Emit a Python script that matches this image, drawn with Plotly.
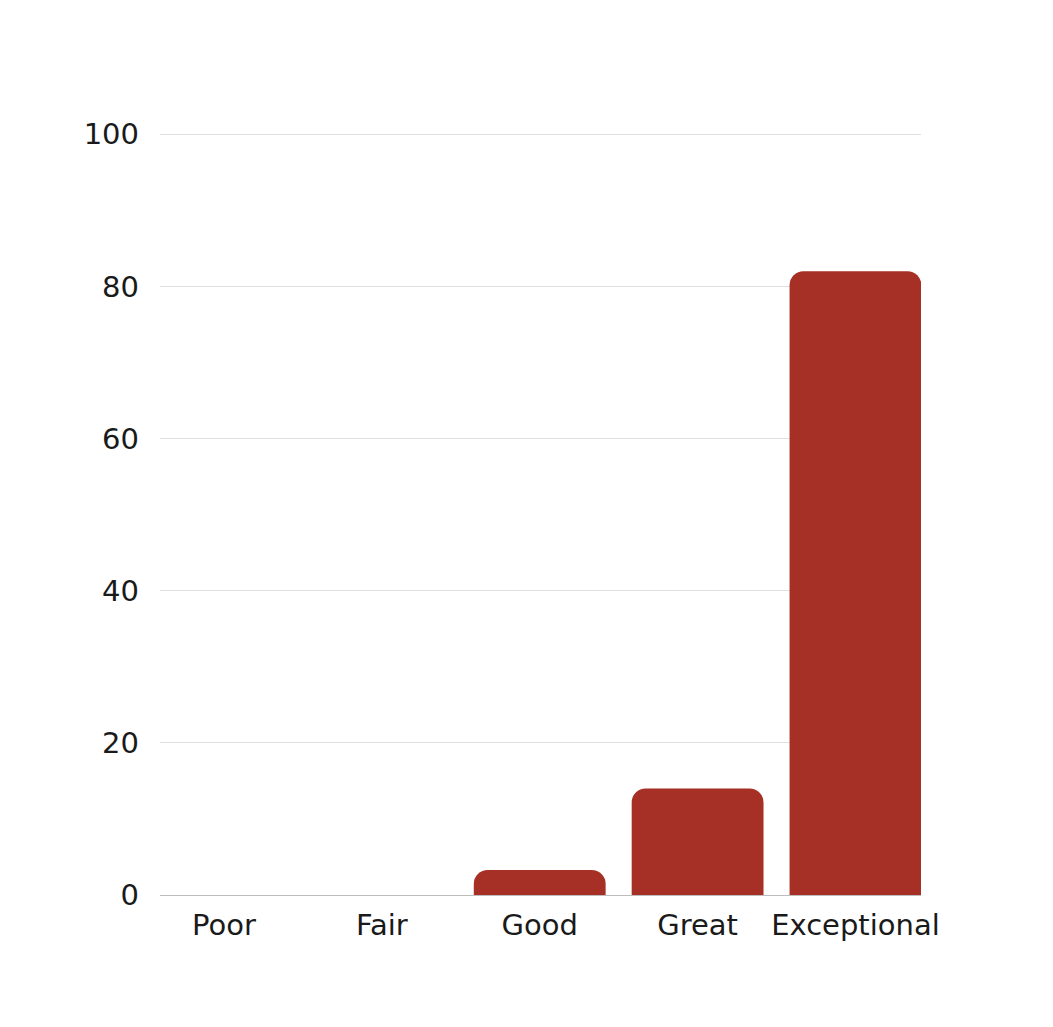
import plotly.graph_objects as go

categories = ["Poor", "Fair", "Good", "Great", "Exceptional"]
values = [0, 0, 3.3, 14, 82]
y_ticks = [0, 20, 40, 60, 80, 100]

fig = go.Figure()
fig.add_trace(go.Bar(
    x=categories,
    y=values,
    marker=dict(color="#a63025", cornerradius=14, line=dict(width=0)),
))

# page adds 8px body margin, so margins are shifted to compensate
fig.update_layout(
    width=1037, height=1011,
    margin=dict(l=152, r=124, t=124, b=124),
    paper_bgcolor="white", plot_bgcolor="white",
    bargap=0.165,
    showlegend=False,
    font=dict(family="DejaVu Sans", size=29, color="#1a1a1a"),
)
fig.update_yaxes(
    range=[0, 100.3], tickvals=y_ticks,
    showgrid=True, gridcolor="#e0e0e0", gridwidth=1,
    zeroline=True, zerolinecolor="#bdbdbd", zerolinewidth=1,
    ticklabelstandoff=20, showline=False,
)
# categories spread wider than the grid, first label overhangs on the left
fig.update_xaxes(showline=False, ticks="", ticklabelstandoff=10,
                 range=[-0.405, 4.415])

fig.write_html("out.html")
